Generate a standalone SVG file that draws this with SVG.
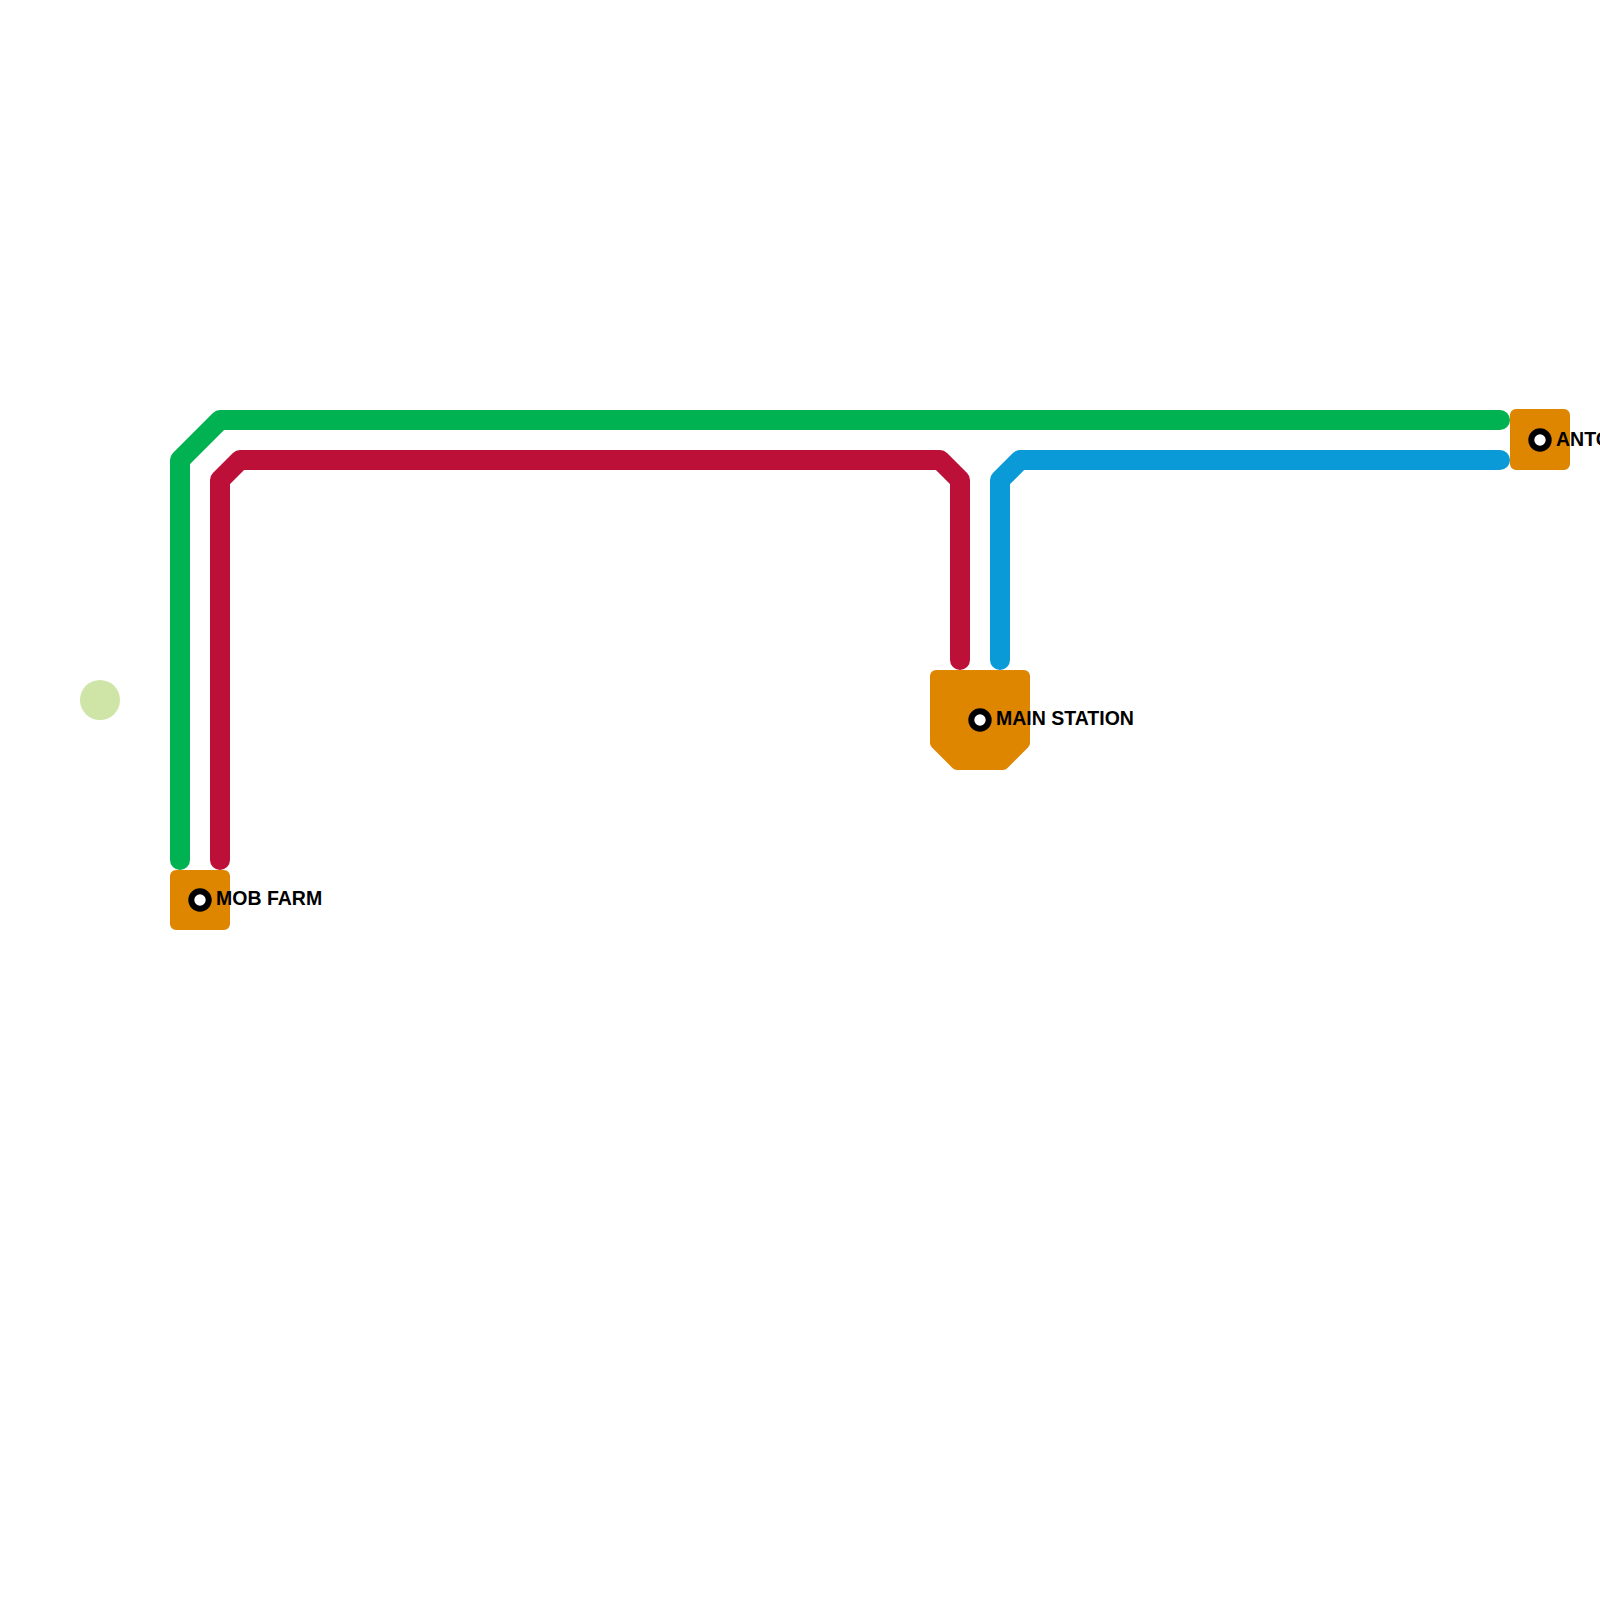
<svg xmlns="http://www.w3.org/2000/svg" width="1600" height="1600" viewBox="0 0 1600 1600">
<style>
.line{fill:none;stroke-width:20;stroke-linecap:round;stroke-linejoin:round}
.stn{fill:#df8600;stroke:#df8600;stroke-width:12;stroke-linejoin:round}
.dot{fill:#fff;stroke:#000;stroke-width:6}
.lbl{font-family:"Liberation Sans",Arial,sans-serif;font-weight:bold;font-size:19.5px;fill:#000}
</style>
<rect width="1600" height="1600" fill="#fff"/>
<circle cx="100" cy="700" r="20" fill="#cfe5a8"/>
<g id="connectors">
<path class="line" stroke="#00b251" d="M180 860 L180 460 L220 420 L1500 420"/>
<path class="line" stroke="#bd1038" d="M220 860 L220 480 L240 460 L940 460 L960 480 L960 660"/>
<path class="line" stroke="#0a9ad7" d="M1000 660 L1000 480 L1020 460 L1500 460"/>
</g>
<g id="mob-farm">
<rect class="stn" x="176" y="876" width="48" height="48"/>
<circle class="dot" cx="200" cy="900" r="8.7"/>
<text class="lbl" x="216" y="905">MOB FARM</text>
</g>
<g id="main-station">
<path class="stn" d="M936 676 L1024 676 L1024 743 L1003 764 L957 764 L936 743 Z"/>
<circle class="dot" cx="980" cy="720" r="8.7"/>
<text class="lbl" x="996" y="725">MAIN STATION</text>
</g>
<g id="anto">
<rect class="stn" x="1516" y="415" width="48" height="49"/>
<circle class="dot" cx="1540" cy="440" r="8.7"/>
<text class="lbl" x="1556" y="446">ANTO</text>
</g>
</svg>
